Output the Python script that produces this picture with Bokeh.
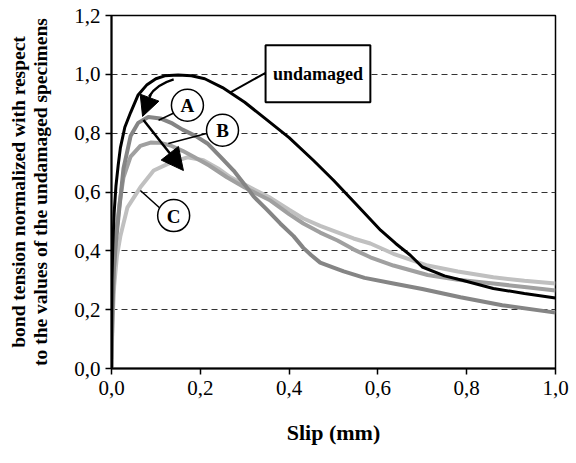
from bokeh.plotting import figure
from bokeh.models import Range1d, FixedTicker, Arrow, NormalHead
from bokeh.core.properties import value
from bokeh.embed import file_html
from bokeh.resources import INLINE

# ---- data ----
x_undamaged = [0, 0.001, 0.003, 0.006, 0.01, 0.015, 0.02, 0.03, 0.043, 0.06, 0.08, 0.10, 0.12, 0.15,
               0.18, 0.21, 0.25, 0.30, 0.35, 0.40, 0.455, 0.50, 0.55, 0.606, 0.64, 0.673, 0.70, 0.75,
               0.79, 0.86, 0.93, 1.0]
y_undamaged = [0, 0.30, 0.42, 0.53, 0.62, 0.69, 0.75, 0.82, 0.87, 0.93, 0.965, 0.985, 0.995, 0.998,
               0.995, 0.985, 0.955, 0.905, 0.845, 0.785, 0.707, 0.64, 0.56, 0.47, 0.425, 0.385, 0.345,
               0.315, 0.30, 0.272, 0.255, 0.24]

x_A = [0, 0.002, 0.005, 0.01, 0.016, 0.027, 0.043, 0.06, 0.083, 0.11, 0.137, 0.16, 0.19, 0.216, 0.245,
       0.275, 0.30, 0.32, 0.35, 0.38, 0.41, 0.432, 0.45, 0.47, 0.50, 0.523, 0.57, 0.635, 0.70, 0.786,
       0.88, 1.0]
y_A = [0, 0.20, 0.33, 0.43, 0.52, 0.68, 0.79, 0.835, 0.855, 0.85, 0.833, 0.812, 0.79, 0.765, 0.72,
       0.673, 0.625, 0.585, 0.54, 0.493, 0.45, 0.41, 0.385, 0.36, 0.343, 0.33, 0.308, 0.289, 0.27,
       0.242, 0.215, 0.19]

x_B = [0, 0.002, 0.005, 0.01, 0.018, 0.027, 0.043, 0.065, 0.088, 0.11, 0.133, 0.16, 0.185, 0.22, 0.26,
       0.30, 0.358, 0.40, 0.432, 0.47, 0.509, 0.545, 0.583, 0.635, 0.712, 0.78, 0.86, 0.93, 1.0]
y_B = [0, 0.18, 0.33, 0.45, 0.56, 0.65, 0.72, 0.757, 0.768, 0.767, 0.758, 0.74, 0.72, 0.69, 0.65,
       0.615, 0.571, 0.525, 0.493, 0.462, 0.435, 0.405, 0.378, 0.35, 0.318, 0.302, 0.289, 0.277, 0.265]

x_C = [0, 0.002, 0.006, 0.012, 0.02, 0.036, 0.065, 0.095, 0.133, 0.171, 0.207, 0.24, 0.268, 0.30,
       0.358, 0.40, 0.432, 0.47, 0.509, 0.545, 0.583, 0.635, 0.712, 0.78, 0.86, 0.93, 1.0]
y_C = [0, 0.15, 0.28, 0.38, 0.45, 0.548, 0.616, 0.673, 0.70, 0.718, 0.708, 0.68, 0.65, 0.625,
       0.58, 0.54, 0.51, 0.485, 0.463, 0.442, 0.425, 0.39, 0.35, 0.33, 0.31, 0.298, 0.289]

x_ticks = [0.0, 0.2, 0.4, 0.6, 0.8, 1.0]
x_tick_labels = ["0,0", "0,2", "0,4", "0,6", "0,8", "1,0"]
y_ticks = [0.0, 0.2, 0.4, 0.6, 0.8, 1.0, 1.2]
y_tick_labels = ["0,0", "0,2", "0,4", "0,6", "0,8", "1,0", "1,2"]

x_title = "Slip (mm)"
y_title = "bond tension normalized with respect\nto the values of the undamaged specimens"

FONT = "Liberation Serif"

p = figure(width=576, height=463, output_backend="svg", toolbar_location=None,
           x_range=Range1d(0, 1.0), y_range=Range1d(0, 1.2),
           min_border_left=111, min_border_right=21, min_border_top=15, min_border_bottom=95)
p.background_fill_color = "white"
p.border_fill_color = "white"
p.outline_line_color = "black"
p.outline_line_width = 1.5

# grid
p.xgrid.grid_line_color = None
p.ygrid.ticker = FixedTicker(ticks=[0.2, 0.4, 0.6, 0.8, 1.0])
p.ygrid.grid_line_color = "#333333"
p.ygrid.grid_line_dash = "6 4"
p.ygrid.grid_line_width = 1

# axes
p.xaxis.ticker = FixedTicker(ticks=x_ticks)
p.yaxis.ticker = FixedTicker(ticks=y_ticks)
p.xaxis.major_label_overrides = {t: l for t, l in zip(x_ticks, x_tick_labels)}
p.yaxis.major_label_overrides = {t: l for t, l in zip(y_ticks, y_tick_labels)}
for ax in (p.xaxis, p.yaxis):
    ax.axis_line_color = "black"
    ax.axis_line_width = 2
    ax.major_tick_line_color = "black"
    ax.major_tick_line_width = 1.5
    ax.major_tick_out = 6
    ax.major_tick_in = 0
    ax.minor_tick_line_color = None
    ax.major_label_text_font = FONT
    ax.major_label_text_font_size = "21px"
    ax.major_label_text_color = "black"
    ax.axis_label_text_font = FONT
    ax.axis_label_text_font_style = "bold"
    ax.axis_label_text_color = "black"

p.xaxis.axis_label = x_title
p.xaxis.axis_label_text_font_size = "22px"
p.xaxis.major_label_standoff = 6
p.xaxis.axis_label_standoff = 22
p.yaxis.axis_label = y_title
p.yaxis.axis_label_text_font_size = "19.5px"
p.yaxis.axis_label_text_line_height = 1.08
p.yaxis.major_label_standoff = 5
p.yaxis.axis_label_standoff = 20

# curves
p.line(x_C, y_C, line_color="#c0c0c0", line_width=4)
p.line(x_B, y_B, line_color="#a0a0a0", line_width=4)
p.line(x_A, y_A, line_color="#858585", line_width=4)
p.line(x_undamaged, y_undamaged, line_color="black", line_width=3)

# "undamaged" label box
p.quad(left=[0.347], right=[0.583], bottom=[0.905], top=[1.099],
       fill_color="white", line_color="black", line_width=2)
p.text(x=[0.465], y=[1.002], text=["undamaged"], text_font=value(FONT), text_font_style="bold",
       text_font_size="18px", text_align="center", text_baseline="middle", text_color="black")
p.segment(x0=[0.347], y0=[1.005], x1=[0.268], y1=[0.939], line_color="black", line_width=2)

# circled letters with leader lines
p.segment(x0=[0.144, 0.216, 0.11], y0=[0.871, 0.80, 0.544],
          x1=[0.106, 0.128, 0.065], y1=[0.844, 0.765, 0.605], line_color="black", line_width=1.5)
p.scatter(x=[0.171, 0.25, 0.14], y=[0.895, 0.81, 0.52], marker="circle", size=32,
          fill_color="white", line_color="black", line_width=1.5)
p.text(x=[0.171, 0.25, 0.14], y=[0.893, 0.808, 0.518], text=["A", "B", "C"],
       text_font=value(FONT), text_font_style="bold", text_font_size="19px",
       text_align="center", text_baseline="middle", text_color="black")

# curved arrow
p.quadratic(x0=[0.14], y0=[0.983], x1=[0.085], y1=[0.925], cx=[0.1], cy=[0.965],
            line_color="black", line_width=2.5)
p.add_layout(Arrow(end=NormalHead(size=20, fill_color="black", line_color="black"),
                   x_start=0.088, y_start=0.93, x_end=0.07, y_end=0.857,
                   line_color="black", line_width=2.5))
# straight arrow
p.add_layout(Arrow(end=NormalHead(size=22, fill_color="black", line_color="black"),
                   x_start=0.072, y_start=0.845, x_end=0.162, y_end=0.673,
                   line_color="black", line_width=2.5))

open("out.html", "w").write(file_html(p, INLINE))
